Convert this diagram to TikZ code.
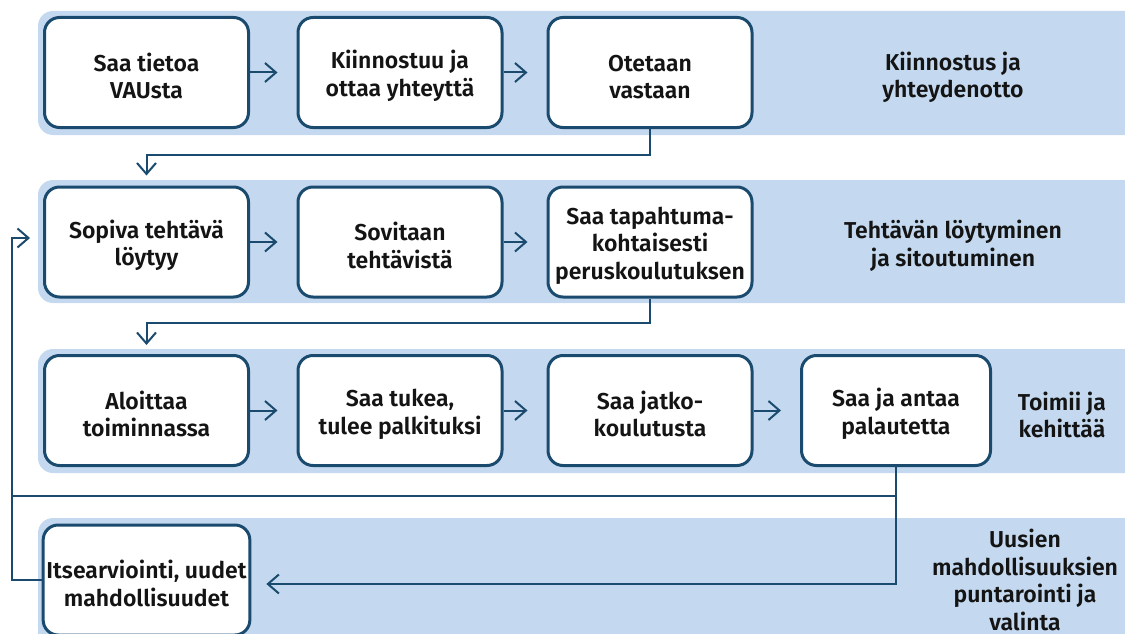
\documentclass[tikz,border=0pt]{standalone}
\usepackage{fontspec}
\setmainfont{Fira Sans}[BoldFont={Fira Sans SemiBold}]
\usepackage{tikz}
\usetikzlibrary{arrows.meta}
\usetikzlibrary{positioning}
\definecolor{bandblue}{HTML}{C4D9EF}
\definecolor{lineblue}{HTML}{1A4B6E}
\definecolor{textblack}{HTML}{141414}
\newcommand{\topgap}{\rule{0pt}{25pt}}
\tikzset{band/.style = {fill=bandblue, rounded corners=15}}
\tikzset{box/.style = {draw=lineblue, line width=3pt, fill=white, rounded corners=15,
                       minimum width=204, minimum height=110, align=center,
                       text=textblack, font=\fontsize{23}{27.5}\selectfont\bfseries}}
\tikzset{phase/.style = {align=center, text=textblack, font=\fontsize{23}{27.5}\selectfont\bfseries}}
\tikzset{link/.style = {draw=lineblue, line width=2pt}}
\tikzset{flow/.style = {link, -{Straight Barb[length=11pt, width=19pt]}}}

\begin{document}
\begin{tikzpicture}[x=1pt, y=-1pt]
    \useasboundingbox (0, 0) rectangle (1125, 634);

    \fill [band] (38, 11) rectangle (1150, 135);
    \fill [band] (38, 180) rectangle (1150, 303);
    \fill [band] (38, 349) rectangle (1150, 473);
    \fill [band] (38, 518) rectangle (1150, 660);

    \node [box] (tieto) at (146.5, 72.5) {\topgap Saa tietoa\\VAUsta};
    \node [box] (kiinnostuu) at (400, 72.5) {\topgap Kiinnostuu ja\\ottaa yhteyttä};
    \node [box] (otetaan) at (650, 72.5) {\topgap Otetaan\\vastaan};
    \node [phase] at (953, 77.5) {Kiinnostus ja\\yhteydenotto};

    \node [box] (sopiva) at (146.5, 242) {\topgap Sopiva tehtävä\\löytyy};
    \node [box] (sovitaan) at (400, 242) {\topgap Sovitaan\\tehtävistä};
    \node [box] (perus) at (650, 242) {\topgap Saa tapahtuma-\\kohtaisesti\\peruskoulutuksen};
    \node [phase] at (953, 246) {Tehtävän löytyminen\\ja sitoutuminen};

    \node [box] (aloittaa) at (146.5, 410.5) {\topgap Aloittaa\\toiminnassa};
    \node [box] (tuki) at (400, 410.5) {\topgap Saa tukea,\\tulee palkituksi};
    \node [box] (jatko) at (650, 410.5) {\topgap Saa jatko-\\koulutusta};
    \node [box, minimum width=189] (palaute) at (896, 410.5) {\topgap Saa ja antaa\\palautetta};
    \node [phase] at (1062, 415) {Toimii ja\\kehittää};

    \node [box] (itse) at (146.5, 580) {\topgap Itsearviointi, uudet\\mahdollisuudet};
    \node [phase] at (1025, 580) {Uusien\\mahdollisuuksien\\puntarointi ja\\valinta};

    \draw [flow] (tieto.east) -- ([xshift=-19pt]kiinnostuu.west);
    \draw [flow] (kiinnostuu.east) -- ([xshift=-19pt]otetaan.west);
    \draw [flow] (otetaan.south) -- ++(0, 26) -| ([yshift=10pt]sopiva.north);

    \draw [flow] (sopiva.east) -- ([xshift=-19pt]sovitaan.west);
    \draw [flow] (sovitaan.east) -- ([xshift=-19pt]perus.west);
    \draw [flow] (perus.south) -- ++(0, 24) -| ([yshift=9pt]aloittaa.north);

    \draw [flow] (aloittaa.east) -- ([xshift=-19pt]tuki.west);
    \draw [flow] (tuki.east) -- ([xshift=-19pt]jatko.west);
    \draw [flow] (jatko.east) -- ([xshift=-19pt]palaute.west);

    % back to the start of the task row
    \coordinate (back) at (12, 496);
    \draw [flow] (palaute.south) |- ([xshift=15pt, yshift=-4pt]itse.east);
    \draw [link] (palaute.south |- back) -- (back);
    \draw [flow] (itse.west) -| (back) |- ([xshift=-13pt, yshift=4pt]sopiva.west);
\end{tikzpicture}
\end{document}
